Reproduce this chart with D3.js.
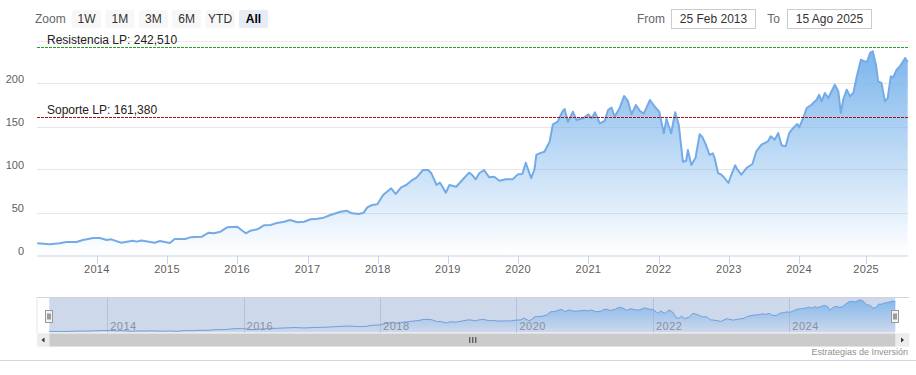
<!DOCTYPE html>
<html><head><meta charset="utf-8">
<script src="https://cdn.jsdelivr.net/npm/d3@7"></script>
<style>
body{margin:0;background:#fff;}
svg{display:block;font-family:"Liberation Sans",Arial,sans-serif;}
</style>
</head><body>
<svg id="c" width="916" height="375"></svg>
<script>
const dates = ["2013-02-25","2013-05-01","2013-06-22","2013-07-26","2013-09-17","2013-10-21","2013-12-13",
"2014-01-17","2014-02-21","2014-03-17","2014-05-08","2014-07-08","2014-07-27","2014-08-21","2014-10-30","2014-11-25",
"2015-01-16","2015-02-10","2015-04-06","2015-05-02","2015-07-02","2015-08-06","2015-09-01","2015-10-06","2015-11-10",
"2016-01-02","2016-01-23","2016-02-15","2016-03-10","2016-04-15","2016-05-19","2016-06-23","2016-07-19","2016-09-01","2016-10-02","2016-11-10","2016-12-14",
"2017-01-17","2017-02-22","2017-03-26","2017-04-30","2017-06-21","2017-07-25","2017-08-21","2017-09-25","2017-10-20","2017-11-08","2017-12-03","2017-12-30",
"2018-01-29","2018-03-12","2018-04-04","2018-05-03","2018-05-29","2018-06-25","2018-07-23","2018-08-24","2018-09-20","2018-10-07","2018-11-03","2018-11-20","2018-12-04","2018-12-21",
"2019-01-09","2019-02-13","2019-03-17","2019-04-21","2019-05-08","2019-05-26","2019-06-13","2019-07-08","2019-08-04","2019-08-30","2019-09-26","2019-10-30","2019-12-04",
"2020-01-01","2020-01-23","2020-02-10","2020-03-09","2020-03-26","2020-04-05","2020-04-21","2020-05-17","2020-06-13","2020-06-30","2020-07-25","2020-08-18","2020-08-30","2020-09-16","2020-10-12","2020-10-30","2020-12-04",
"2021-01-01","2021-01-18","2021-02-04","2021-03-01","2021-03-26","2021-04-13","2021-05-01","2021-05-17","2021-06-13","2021-07-05","2021-07-25","2021-08-13","2021-09-05","2021-09-26","2021-10-16","2021-11-17","2021-12-12",
"2022-01-04","2022-01-28","2022-02-11","2022-03-07","2022-03-28","2022-04-16","2022-05-07","2022-05-24","2022-06-02","2022-06-20","2022-07-12","2022-08-02","2022-08-16","2022-09-03","2022-09-23","2022-10-10","2022-10-19","2022-11-06","2022-11-23","2022-12-10","2022-12-30",
"2023-01-11","2023-02-03","2023-02-15","2023-03-07","2023-04-03","2023-05-04","2023-05-24","2023-06-20","2023-07-24","2023-08-07","2023-08-28","2023-09-15","2023-10-02","2023-10-24","2023-11-11","2023-12-02","2023-12-23",
"2024-01-02","2024-01-24","2024-02-12","2024-03-09","2024-04-06","2024-04-20","2024-05-03","2024-05-21","2024-06-08","2024-07-14","2024-08-02","2024-08-16","2024-08-29","2024-09-17","2024-10-05","2024-10-23","2024-11-11","2024-12-03","2024-12-20",
"2025-01-05","2025-01-22","2025-02-06","2025-02-23","2025-03-07","2025-03-25","2025-04-13","2025-04-28","2025-05-15","2025-05-27","2025-06-16","2025-07-04","2025-08-01","2025-08-15"];
const prices = [14.2,13.0,14.2,15.7,15.7,18.0,20.3,
20.3,18.0,18.8,14.9,17.2,16.1,17.5,14.9,16.9,
14.5,19.2,19.2,21.1,21.9,26.5,25.8,27.7,32.8,
33.5,29.7,25.8,28.8,30.5,35.1,35.5,37.4,39.3,41.3,38.6,39.3,
42.1,42.8,44.0,47.1,50.9,52.0,49.0,48.3,49.8,56.0,58.7,59.5,
70.3,78.1,71.5,79.3,82.0,87.0,90.9,99.4,99.4,95.6,82.0,84.7,80.0,73.0,
82.0,80.0,87.8,96.3,93.6,88.6,95.6,99.4,90.9,91.6,87.0,88.6,88.6,
94.6,94.8,107.9,90.0,100.0,116.9,118.8,120.7,132.3,152.6,155.6,167.2,170.3,155.6,167.2,157.6,159.5,
164.2,159.5,166.5,153.7,156.4,169.2,171.9,161.4,171.9,185.5,179.7,164.2,175.0,168.0,165.3,180.8,173.0,
167.2,142.1,158.7,142.1,166.5,151.7,109.1,109.9,122.7,105.2,113.7,140.9,138.0,129.3,116.9,118.8,113.4,95.9,94.0,90.1,84.3,
92.1,104.9,99.8,94.0,101.7,106.4,121.2,128.8,132.8,138.6,134.7,142.4,128.1,127.0,142.4,148.3,152.9,
149.0,159.9,171.5,175.3,181.2,187.0,179.3,189.0,183.1,198.6,190.9,165.7,181.2,192.8,185.1,189.0,208.4,227.7,226.0,
225.0,235.5,237.4,221.9,202.6,200.6,179.3,183.1,208.4,207.0,216.0,220.0,229.7,225.0];

const yTicks = [0,50,100,150,200,250];
const yTickLabels = ["0","50","100","150","200",""];
const xYears = [2014,2015,2016,2017,2018,2019,2020,2021,2022,2023,2024,2025];
const navYears = [2014,2016,2018,2020,2022,2024];
const plotLineValues = [242.51,161.38];
const plotLineLabels = ["Resistencia LP: 242,510","Soporte LP: 161,380"];
const plotLineColors = ["#22a022","#a81414"];
const zoomButtons = ["1W","1M","3M","6M","YTD","All"];
const selectedButton = "All";
const rangeFrom = "25 Feb 2013";
const rangeTo = "15 Ago 2025";
const credit = "Estrategias de Inversión";

const parse = d3.timeParse("%Y-%m-%d");
const data = dates.map((d,i)=>({date:parse(d), v:prices[i]}));
const first = data[0].date, last = data[data.length-1].date;
const brk = parse("2024-01-01");

const svg = d3.select("#c");
const defs = svg.append("defs");
function grad(id){
  const g = defs.append("linearGradient").attr("id",id).attr("x1",0).attr("y1",0).attr("x2",0).attr("y2",1);
  g.append("stop").attr("offset",0).attr("stop-color","#7cb5ec").attr("stop-opacity",1);
  g.append("stop").attr("offset",1).attr("stop-color","#7cb5ec").attr("stop-opacity",0);
}
grad("gMain"); grad("gNav");

// ---------- main chart ----------
const x = d3.scaleTime().domain([first, brk, last]).range([37.2, 799, 907.7]);
const y = d3.scaleLinear().domain([0,250]).range([255.5,40.5]);

svg.append("g").selectAll("line").data(yTicks).join("line")
  .attr("x1",37).attr("x2",908).attr("y1",d=>Math.round(y(d))+0.5).attr("y2",d=>Math.round(y(d))+0.5)
  .attr("stroke",d=>d===0?"none":(d===250?"#f2e8ea":"#e6e6e6")).attr("stroke-width",1);

svg.append("g").selectAll("text").data(yTicks).join("text")
  .attr("x",24).attr("y",d=>y(d)-1).attr("text-anchor","end")
  .attr("font-size",11).attr("fill","#606060")
  .text((d,i)=>yTickLabels[i]);

const area = d3.area().x(d=>x(d.date)).y0(y(0)).y1(d=>y(d.v));
const line = d3.line().x(d=>x(d.date)).y(d=>y(d.v));
svg.append("path").datum(data).attr("d",area).attr("fill","url(#gMain)");
svg.append("path").datum(data).attr("d",line).attr("fill","none")
  .attr("stroke","#74abe6").attr("stroke-width",2).attr("stroke-linejoin","round");

plotLineValues.forEach((v,i)=>{
  const yy = Math.round(y(v))+0.5;
  svg.append("line").attr("x1",37).attr("x2",908).attr("y1",yy).attr("y2",yy)
    .attr("stroke",plotLineColors[i]).attr("stroke-width",1).attr("stroke-dasharray","3,1");
  svg.append("text").attr("x",47).attr("y",yy-3.5).attr("font-size",12).attr("fill","#222")
    .text(plotLineLabels[i]);
});

svg.append("line").attr("x1",37).attr("x2",908).attr("y1",256).attr("y2",256)
  .attr("stroke","#c8d4e6").attr("stroke-width",1);
const xt = xYears.map(yr=>new Date(yr,0,1));
svg.append("g").selectAll("line").data(xt).join("line")
  .attr("x1",d=>Math.round(x(d))+0.5).attr("x2",d=>Math.round(x(d))+0.5)
  .attr("y1",256).attr("y2",264).attr("stroke","#c8d4e6");
svg.append("g").selectAll("text").data(xt).join("text")
  .attr("x",d=>x(d)).attr("y",273).attr("text-anchor","middle")
  .attr("font-size",11).attr("fill","#606060").attr("letter-spacing","0.3")
  .text(d=>d3.timeFormat("%Y")(d));

// ---------- range selector ----------
svg.append("text").attr("x",35).attr("y",23).attr("font-size",12).attr("fill","#666").text("Zoom");
const btn = svg.append("g").selectAll("g").data(zoomButtons).join("g")
  .attr("transform",(d,i)=>`translate(${72+i*33.4},10)`);
btn.append("rect").attr("width",29).attr("height",18).attr("rx",2)
  .attr("fill",d=>d===selectedButton?"#e6ebf5":"#f7f7f7");
btn.append("text").attr("x",14.5).attr("y",13).attr("text-anchor","middle").attr("font-size",12)
  .attr("fill",d=>d===selectedButton?"#000":"#333")
  .attr("font-weight",d=>d===selectedButton?"bold":"normal").text(d=>d);

svg.append("text").attr("x",665).attr("y",23).attr("text-anchor","end").attr("font-size",12).attr("fill","#666").text("From");
svg.append("rect").attr("x",671.5).attr("y",9.5).attr("width",84).attr("height",19).attr("fill","#fff").attr("stroke","#ccc");
svg.append("text").attr("x",713.5).attr("y",23).attr("text-anchor","middle").attr("font-size",12).attr("fill","#333").text(rangeFrom);
svg.append("text").attr("x",780).attr("y",23).attr("text-anchor","end").attr("font-size",12).attr("fill","#666").text("To");
svg.append("rect").attr("x",787.5).attr("y",9.5).attr("width",84).attr("height",19).attr("fill","#fff").attr("stroke","#ccc");
svg.append("text").attr("x",829.5).attr("y",23).attr("text-anchor","middle").attr("font-size",12).attr("fill","#333").text(rangeTo);

// ---------- navigator ----------
const nx = d3.scaleTime().domain([first, brk, last]).range([49.3, 789.3, 895.3]);
const ny = d3.scaleLinear().domain(d3.extent(prices)).range([331.5, 300]);
const navTop = 297.5, navBot = 332.5;
svg.append("rect").attr("x",nx(first)).attr("y",navTop).attr("width",nx(last)-nx(first)).attr("height",navBot-navTop)
  .attr("fill","rgba(102,133,194,0.32)");
const nt = navYears.map(yr=>new Date(yr,0,1));
svg.append("g").selectAll("line").data(nt).join("line")
  .attr("x1",d=>Math.round(nx(d))+0.5).attr("x2",d=>Math.round(nx(d))+0.5)
  .attr("y1",navTop).attr("y2",navBot).attr("stroke","#b9c0d4");
const narea = d3.area().x(d=>nx(d.date)).y0(navBot).y1(d=>ny(d.v));
const nline = d3.line().x(d=>nx(d.date)).y(d=>ny(d.v));
svg.append("path").datum(data).attr("d",narea).attr("fill","url(#gNav)").attr("opacity",0.9);
svg.append("path").datum(data).attr("d",nline).attr("fill","none").attr("stroke","#6f9fdc").attr("stroke-width",1);
svg.append("g").selectAll("text").data(nt).join("text")
  .attr("x",d=>nx(d)+3).attr("y",330).attr("font-size",11).attr("fill","#8a90a0").attr("letter-spacing","0.5")
  .text(d=>d3.timeFormat("%Y")(d));
svg.append("path").attr("d",`M37,${navTop}H909`).attr("stroke","#cfd3dc").attr("fill","none");
svg.append("path").attr("d",`M37,${navTop}V${navBot}`).attr("stroke","#e3e5ea").attr("fill","none");

// scrollbar
svg.append("rect").attr("x",37).attr("y",333.5).attr("width",872).attr("height",13).attr("fill","#eeeeee");
svg.append("rect").attr("x",nx(first)).attr("y",333.5).attr("width",nx(last)-nx(first)).attr("height",13).attr("fill","#cbcbcb");
svg.append("rect").attr("x",37).attr("y",333.5).attr("width",12.3).attr("height",13).attr("fill","#ececec");
svg.append("rect").attr("x",nx(last)+0.7).attr("y",333.5).attr("width",13.3).attr("height",13).attr("fill","#ececec");
svg.append("path").attr("d","M41.5,340 L44.5,337.5 L44.5,342.5 Z").attr("fill","#333");
svg.append("path").attr("d","M904,340 L901,337.5 L901,342.5 Z").attr("fill","#333");
const gx = (nx(first)+nx(last))/2;
[-3,0,3].forEach(d=>svg.append("line").attr("x1",gx+d+0.5).attr("x2",gx+d+0.5).attr("y1",337).attr("y2",343).attr("stroke","#333"));
[nx(first), nx(last)].forEach(hx=>{
  const g = svg.append("g").attr("transform",`translate(${Math.round(hx)-3.5},310.5)`);
  g.append("rect").attr("width",7).attr("height",12).attr("fill","#f2f2f2").attr("stroke","#999");
  g.append("line").attr("x1",2.5).attr("x2",2.5).attr("y1",3).attr("y2",9).attr("stroke","#444");
  g.append("line").attr("x1",4.5).attr("x2",4.5).attr("y1",3).attr("y2",9).attr("stroke","#444");
});

svg.append("text").attr("x",908).attr("y",355).attr("text-anchor","end").attr("font-size",9).attr("fill","#909090").text(credit);
svg.append("line").attr("x1",0).attr("x2",916).attr("y1",360.5).attr("y2",360.5).attr("stroke","#cfd6e6");
</script>
</body></html>
